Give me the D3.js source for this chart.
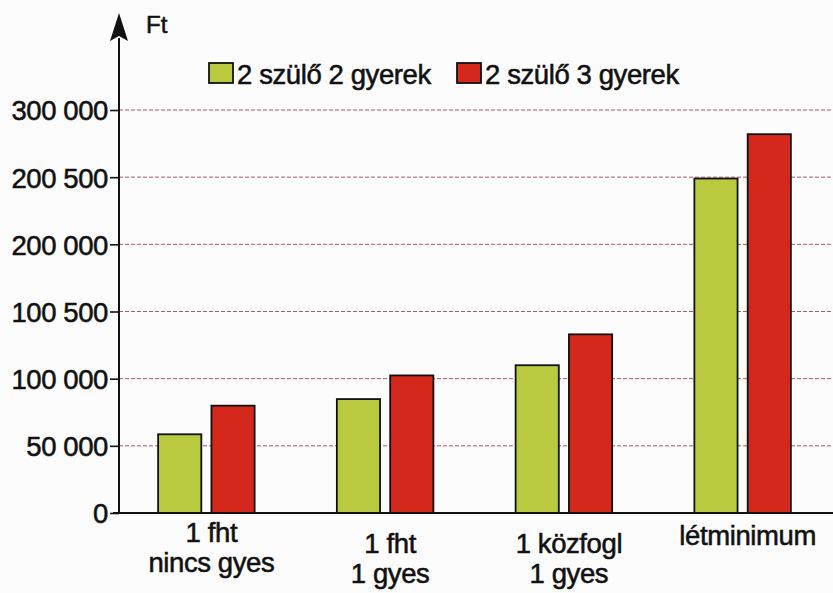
<!DOCTYPE html>
<html>
<head>
<meta charset="utf-8">
<script src="https://cdn.jsdelivr.net/npm/d3@7"></script>
<style>
  html, body { margin: 0; padding: 0; background: #fdfcfc; }
  svg { display: block; }
  text { font-family: "Liberation Sans", Arial, sans-serif; fill: #111; }
</style>
</head>
<body>
<svg id="chart" width="833" height="593"></svg>
<script>
// ---- data ----
const categories = [
  ["1 fht", "nincs gyes"],
  ["1 fht", "1 gyes"],
  ["1 közfogl", "1 gyes"],
  ["létminimum"]
];
const seriesNames = ["2 szülő 2 gyerek", "2 szülő 3 gyerek"];
const series1 = [58600, 84800, 110000, 249000];
const series2 = [79900, 102400, 133000, 282000];
const tickValues = [0, 50000, 100000, 150000, 200000, 250000, 300000];
const tickLabels = ["0", "50 000", "100 000", "100 500", "200 000", "200 500", "300 000"];
const unitLabel = "Ft";

// ---- layout ----
const colors = ["#b9ca3e", "#d5281d"];
const svg = d3.select("#chart");
const W = 833;
const axisX = 119, baseY = 513;
const textStroke = 0.55;

const x = d3.scaleBand()
  .domain(d3.range(categories.length))
  .range([117, 832])
  .paddingInner(0.46)
  .paddingOuter(0.23);

const xs = d3.scaleBand()
  .domain(d3.range(seriesNames.length))
  .range([0, x.bandwidth()])
  .paddingInner(0.19);

const y = d3.scaleLinear().domain([0, 300000]).range([baseY, 110]);

// gridlines
svg.append("g")
  .selectAll("line")
  .data(tickValues.filter(v => v > 0))
  .join("line")
  .attr("x1", axisX).attr("x2", W)
  .attr("y1", d => y(d)).attr("y2", d => y(d))
  .attr("stroke", "#a8596a")
  .attr("stroke-width", 1)
  .attr("stroke-dasharray", "4,2");

// y axis ticks + labels
const yAxis = d3.axisLeft(y)
  .tickValues(tickValues)
  .tickSize(9)
  .tickPadding(2)
  .tickFormat((d, i) => tickLabels[i]);

const gy = svg.append("g")
  .attr("transform", `translate(${axisX},0)`)
  .call(yAxis);
gy.select(".domain").remove();
gy.selectAll(".tick line").attr("stroke", "#111").attr("stroke-width", 1.6);
gy.selectAll(".tick text")
  .attr("font-size", 27.5)
  .attr("font-family", "Liberation Sans, Arial, sans-serif")
  .attr("fill", "#111")
  .attr("stroke", "#111")
  .attr("stroke-width", textStroke)
  .attr("letter-spacing", "-0.4")
  .attr("dy", "0.36em");

// bars
const data = categories.map((c, i) => [series1[i], series2[i]]);
const groups = svg.append("g")
  .selectAll("g")
  .data(data)
  .join("g")
  .attr("transform", (d, i) => `translate(${x(i)},0)`);

groups.selectAll("rect")
  .data(d => d)
  .join("rect")
  .attr("x", (d, j) => xs(j))
  .attr("width", xs.bandwidth())
  .attr("y", d => y(d))
  .attr("height", d => baseY - y(d))
  .attr("fill", (d, j) => colors[j])
  .attr("stroke", "#111")
  .attr("stroke-width", 1.8);

// y axis line with arrow
svg.append("line")
  .attr("x1", axisX).attr("x2", axisX)
  .attr("y1", baseY + 1).attr("y2", 38)
  .attr("stroke", "#111").attr("stroke-width", 2);
svg.append("path")
  .attr("d", `M${axisX},13 L${axisX - 9},41 L${axisX},36 L${axisX + 9},41 Z`)
  .attr("fill", "#111");
svg.append("text")
  .attr("x", 146).attr("y", 33)
  .attr("font-size", 24)
  .attr("stroke", "#111").attr("stroke-width", textStroke)
  .text(unitLabel);

// x axis baseline
svg.append("line")
  .attr("x1", 113).attr("x2", W)
  .attr("y1", baseY).attr("y2", baseY)
  .attr("stroke", "#111").attr("stroke-width", 2.2);

// category labels
const labelY = [542, 553, 553, 545];
const labelDx = 5;
categories.forEach((lines, i) => {
  const cx = x(i) + x.bandwidth() / 2 + labelDx;
  const t = svg.append("text")
    .attr("text-anchor", "middle")
    .attr("font-size", 27.5)
    .attr("letter-spacing", "-0.4")
    .attr("stroke", "#111").attr("stroke-width", textStroke)
    .attr("x", cx)
    .attr("y", labelY[i]);
  lines.forEach((ln, k) => {
    t.append("tspan")
      .attr("x", cx)
      .attr("dy", k === 0 ? 0 : 30)
      .text(ln);
  });
});

// legend
const legendX = [209, 457];
seriesNames.forEach((name, i) => {
  svg.append("rect")
    .attr("x", legendX[i]).attr("y", 63)
    .attr("width", 24).attr("height", 20)
    .attr("fill", colors[i])
    .attr("stroke", "#111").attr("stroke-width", 1.8);
  svg.append("text")
    .attr("x", legendX[i] + 28).attr("y", 84)
    .attr("font-size", 27.5)
    .attr("stroke", "#111").attr("stroke-width", textStroke)
    .attr("letter-spacing", "-0.4")
    .text(name);
});
</script>
</body>
</html>
